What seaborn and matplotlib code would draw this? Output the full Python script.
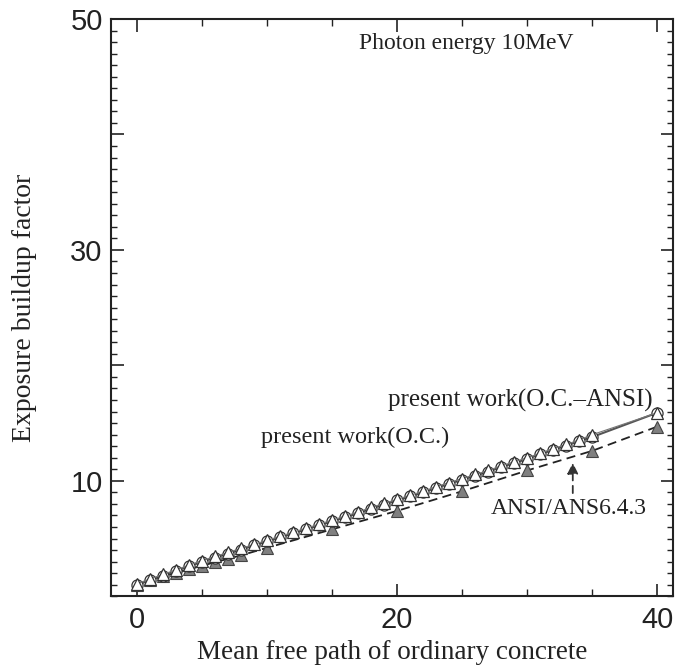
import matplotlib
matplotlib.use("Agg")
import matplotlib.pyplot as plt
import seaborn as sns
import pandas as pd
from matplotlib.ticker import MultipleLocator, FixedLocator

sns.set_theme(style="ticks")
plt.rcParams['font.family'] = ['Liberation Serif', 'DejaVu Serif']

# Data
x_oc = [0, 1, 2, 3, 4, 5, 6, 7, 8, 9, 10, 11, 12, 13, 14, 15, 16, 17, 18, 19, 20,
        21, 22, 23, 24, 25, 26, 27, 28, 29, 30, 31, 32, 33, 34, 35, 40]
y_oc = [1.0, 1.4, 1.8, 2.2, 2.6, 3.0, 3.35, 3.7, 4.05, 4.4, 4.75, 5.1, 5.45, 5.8, 6.15,
        6.5, 6.85, 7.2, 7.6, 7.95, 8.3, 8.65, 9.0, 9.4, 9.75, 10.1, 10.45, 10.8, 11.2,
        11.55, 11.9, 12.3, 12.7, 13.05, 13.45, 13.8, 15.9]
y_oc_ansi = [1.1, 1.5, 1.9, 2.3, 2.7, 3.1, 3.45, 3.8, 4.15, 4.5, 4.85, 5.2, 5.55, 5.9, 6.25,
             6.6, 6.95, 7.3, 7.7, 8.05, 8.4, 8.75, 9.1, 9.5, 9.85, 10.2, 10.55, 10.9, 11.3,
             11.65, 12.0, 12.4, 12.8, 13.15, 13.55, 14.0, 15.9]
x_ansi = [0, 1, 2, 3, 4, 5, 6, 7, 8, 10, 15, 20, 25, 30, 35, 40]
y_ansi = [1.0, 1.4, 1.75, 2.05, 2.35, 2.65, 2.95, 3.25, 3.55, 4.2, 5.8, 7.4, 9.1, 10.9, 12.6, 14.7]

df_oc = pd.DataFrame({"x": x_oc, "y": y_oc})
df_oca = pd.DataFrame({"x": x_oc, "y": y_oc_ansi})
df_ansi = pd.DataFrame({"x": x_ansi, "y": y_ansi})

fig = plt.figure(figsize=(6.77, 6.67), dpi=100)
ax = fig.add_axes([0.164, 0.106, 0.830, 0.8655])

# ANSI dashed line with filled gray triangles
sns.lineplot(data=df_ansi, x="x", y="y", ax=ax, color="#222222", linewidth=1.3,
             linestyle=(0, (5, 3)), marker="^", markersize=8, markerfacecolor="#808080",
             markeredgecolor="#444444", markeredgewidth=0.8)
# present work (O.C.) circles
sns.lineplot(data=df_oc, x="x", y="y", ax=ax, color="#555555", linewidth=1.5,
             marker="o", markersize=8, markerfacecolor="white",
             markeredgecolor="#333333", markeredgewidth=0.9)
# present work (O.C.-ANSI) triangles
sns.lineplot(data=df_oca, x="x", y="y", ax=ax, color="#777777", linewidth=0.8,
             marker="^", markersize=8, markerfacecolor="white",
             markeredgecolor="#333333", markeredgewidth=0.9)

ax.set_xlim(-2, 41.2)
ax.set_ylim(0, 50)
ax.xaxis.set_major_locator(FixedLocator([0, 20, 40]))
ax.xaxis.set_minor_locator(MultipleLocator(5))
ax.yaxis.set_major_locator(FixedLocator([10, 20, 30, 40, 50]))
ax.set_yticklabels(["10", "", "30", "", "50"])
ax.yaxis.set_minor_locator(MultipleLocator(1))

ax.tick_params(which="both", direction="in", top=True, right=True, color="#222222")
ax.tick_params(which="major", length=9, width=1.2)
ax.tick_params(which="minor", length=5, width=1.0)
ax.tick_params(axis="y", which="minor", length=4)
for lab in ax.get_xticklabels() + ax.get_yticklabels():
    lab.set_fontfamily("Liberation Sans")
    lab.set_fontsize(21)
    lab.set_color("#222222")
ax.tick_params(axis="x", pad=7)
ax.tick_params(axis="y", pad=6)

for s in ax.spines.values():
    s.set_linewidth(1.5)
    s.set_color("#222222")

ax.set_xlabel("Mean free path of ordinary concrete", fontsize=19.5, color="#222222", labelpad=4)
ax.set_ylabel("Exposure buildup factor", fontsize=20, color="#222222", labelpad=24)

ax.text(25.3, 47.9, "Photon energy 10MeV", ha="center", va="center", fontsize=17, color="#222222")
ax.text(29.5, 17.0, "present work(O.C.\u2013ANSI)", ha="center", va="center", fontsize=18, color="#222222")
ax.text(16.8, 13.8, "present work(O.C.)", ha="center", va="center", fontsize=17.5, color="#222222")
ax.text(33.2, 7.6, "ANSI/ANS6.4.3", ha="center", va="center", fontsize=17, color="#222222")
ax.annotate("", xy=(33.5, 11.8), xytext=(33.5, 8.7),
            arrowprops=dict(arrowstyle="-|>", linestyle=(0, (4, 3)), color="#333333",
                            lw=1.3, mutation_scale=16, facecolor="#808080"))

fig.savefig("out.png", dpi=100)
